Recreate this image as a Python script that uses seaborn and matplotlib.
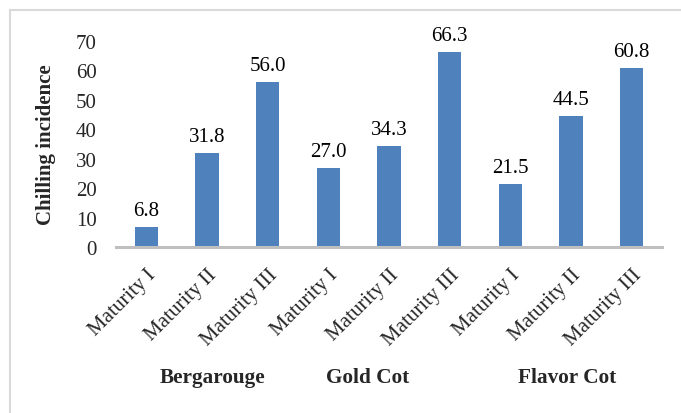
import matplotlib
matplotlib.use("Agg")
import matplotlib.pyplot as plt
from matplotlib.lines import Line2D
import seaborn as sns
import pandas as pd

sns.set_theme(style="white")
plt.rcParams["font.family"] = ["Liberation Serif", "DejaVu Serif"]

# Chilling incidence per cultivar and maturity stage
categories = ["Maturity I", "Maturity II", "Maturity III",
              "Maturity I", "Maturity II", "Maturity III",
              "Maturity I", "Maturity II", "Maturity III"]
values = [6.8, 31.8, 56.0, 27.0, 34.3, 66.3, 21.5, 44.5, 60.8]
cultivars = ["Bergarouge", "Gold Cot", "Flavor Cot"]
yticks = [0, 10, 20, 30, 40, 50, 60, 70]

df = pd.DataFrame({"pos": [str(i) for i in range(len(values))], "value": values})

fig = plt.figure(figsize=(6.81, 4.14), dpi=100)
ax = fig.add_axes([116 / 681, 1 - 248 / 414, (662 - 116) / 681, (248 - 42) / 414])

sns.barplot(data=df, x="pos", y="value", color="#4F81BD", saturation=1,
            width=0.38, ax=ax, edgecolor="none")

for p, v in zip(ax.patches, values):
    ax.annotate(f"{v:.1f}", (p.get_x() + p.get_width() / 2, p.get_height()),
                xytext=(0, 5), textcoords="offset points", ha="center", va="bottom",
                fontsize=15, color="#000000", annotation_clip=False)

ax.set_ylim(0, 70)
ax.set_xlim(-0.5, len(values) - 0.5)
ax.set_yticks(yticks)
ax.set_yticklabels([str(t) for t in yticks], fontsize=15)
ax.set_xticks(range(len(values)))
ax.set_xticklabels(categories, rotation=45, ha="right", rotation_mode="anchor",
                   fontsize=15)
ax.tick_params(axis="y", length=0, pad=14)
ax.tick_params(axis="x", length=0, pad=13)

for s in ["left", "right", "top"]:
    ax.spines[s].set_visible(False)
ax.spines["bottom"].set_color("#BFBFBF")
ax.spines["bottom"].set_linewidth(2.2)

ax.set_xlabel("")
ax.set_ylabel("Chilling incidence", fontsize=15, fontweight="bold", labelpad=14)

# cultivar names beneath the maturity labels
for name, xpos in zip(cultivars, [1.09, 3.64, 6.93]):
    ax.text(xpos, -0.63, name, transform=ax.get_xaxis_transform(),
            ha="center", va="center", fontsize=15.3, fontweight="bold")

# chart frame
fig.add_artist(Line2D([10 / 681, 10 / 681], [0, 1 - 11 / 414],
                      color="#D9D9D9", lw=1.5, transform=fig.transFigure))
fig.add_artist(Line2D([10 / 681, 1], [1 - 11 / 414, 1 - 11 / 414],
                      color="#D9D9D9", lw=1.5, transform=fig.transFigure))

fig.savefig("out.png", dpi=100)
